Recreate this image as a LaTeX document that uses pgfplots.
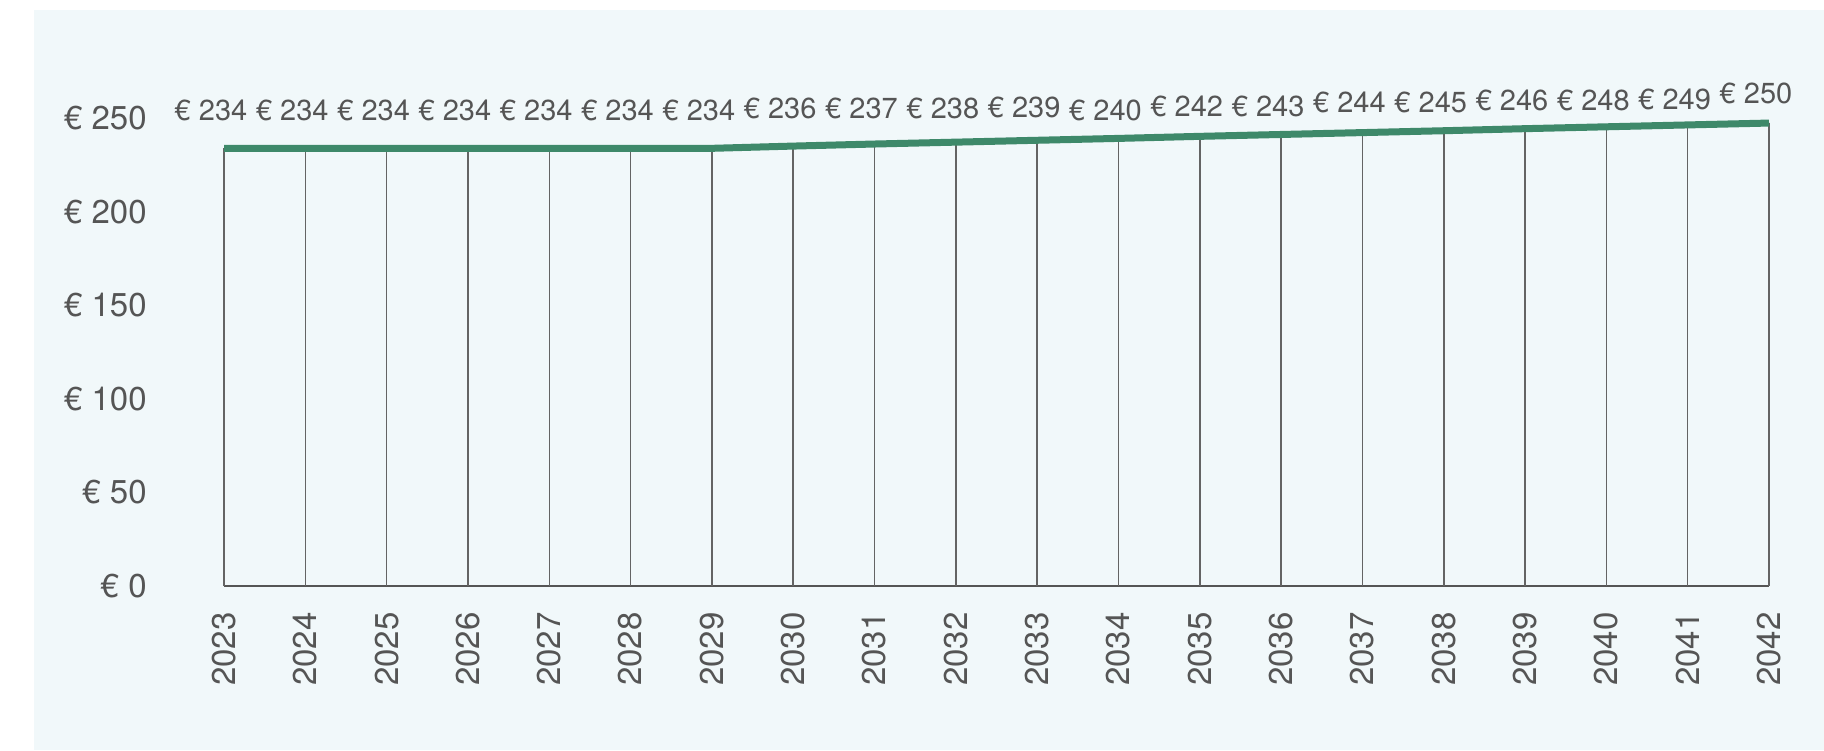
\documentclass[border=0pt]{standalone}
\usepackage{pgfplots}
\usepackage{pgfplotstable}
\pgfplotsset{compat=1.18}
\usepackage{fontspec}
\setmainfont{TeX Gyre Heros}
\definecolor{panel}{RGB}{241,248,250}
\definecolor{lgreen}{RGB}{62,137,106}
\definecolor{txt}{RGB}{85,85,85}
\definecolor{dropc}{RGB}{100,100,100}
% year, drawn line value, label value, label baseline position
\pgfplotstableread{
year line  lab labpos
2023 233.8 234 248.9
2024 233.8 234 248.9
2025 233.8 234 248.9
2026 233.8 234 248.9
2027 233.8 234 248.9
2028 233.8 234 248.9
2029 233.8 234 248.9
2030 235.0 236 249.6
2031 236.1 237 249.6
2032 237.1 238 249.9
2033 238.1 239 250.3
2034 239.1 240 248.9
2035 240.2 242 250.9
2036 241.2 243 250.9
2037 242.2 244 252.9
2038 243.2 245 252.9
2039 244.3 246 253.8
2040 245.3 248 253.8
2041 246.3 249 254.3
2042 247.3 250 257.9
}\datatable
\begin{document}
\begin{tikzpicture}
\path[use as bounding box] (0,0) rectangle (912pt,375pt);
\fill[panel] (17pt,0) rectangle (912pt,370pt);
\begin{axis}[
  at={(112pt,82pt)}, anchor=south west,
  scale only axis, width=772.5pt, height=234pt,
  xmin=2023, xmax=2042, ymin=0, ymax=250,
  clip=false,
  axis x line*=bottom, axis y line*=left,
  x axis line style={draw=txt, line width=1pt, -},
  y axis line style={draw=none},
  major tick length=0pt,
  xtick={2023,...,2042}, ytick={0,50,...,250},
  /pgf/number format/assume math mode=true,
  /pgf/number format/1000 sep={},
  tick label style={font=\fontsize{16.5}{19}\selectfont, text=txt},
  yticklabel={€ \pgfmathprintnumber{\tick}},
  yticklabel style={anchor=east, inner sep=0pt},
  yticklabel shift=38.5pt,
  xticklabel style={rotate=90, anchor=east, inner sep=0pt},
  xticklabel shift=13pt,
]
\addplot[ycomb, draw=dropc, line width=0.75pt, mark=none] table[x=year, y=line] {\datatable};
\addplot[draw=lgreen, line width=3.5pt, mark=none] table[x=year, y=line] {\datatable};
\addplot[draw=none, mark=none,
  point meta=explicit,
  nodes near coords={€ \pgfmathprintnumber{\pgfplotspointmeta}},
  every node near coord/.append style={anchor=base, xshift=-6.5pt, inner sep=0pt, font=\fontsize{14.5}{17}\selectfont, text=txt},
] table[x=year, y=labpos, meta=lab] {\datatable};
\end{axis}
\end{tikzpicture}
\end{document}
